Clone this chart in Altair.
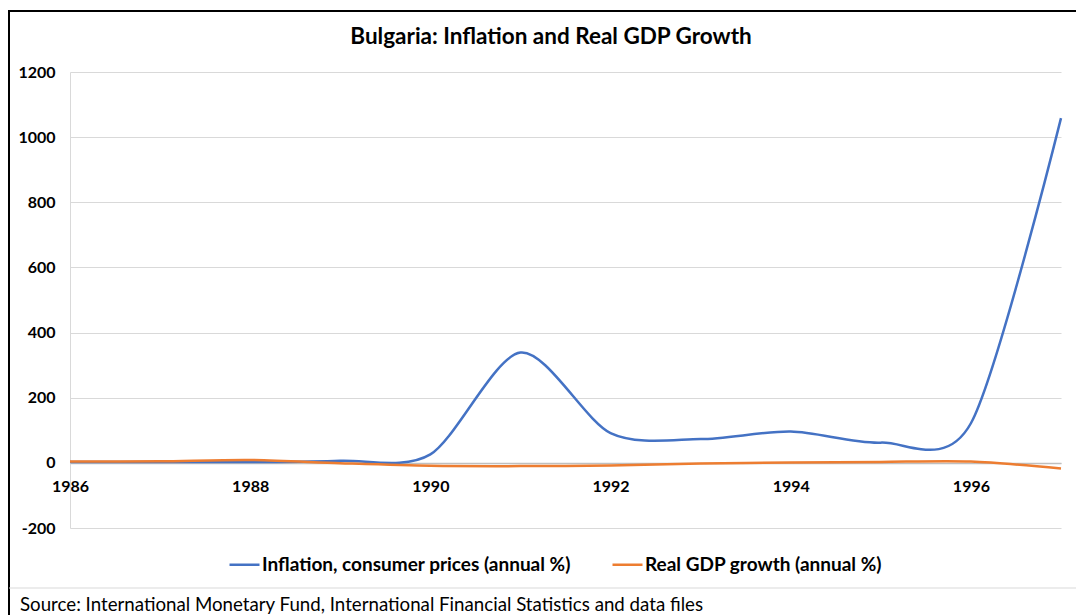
import altair as alt
import pandas as pd

years = list(range(1986, 1998))
inflation = [2.7, 2.7, 2.4, 6.4, 26.0, 338.5, 91.3, 72.9, 96.1, 62.1, 121.6, 1058.4]
gdp_growth = [4.0, 5.0, 9.0, -1.0, -9.0, -10.0, -8.0, -2.0, 1.0, 3.0, 4.0, -17.0]
series_names = ["Inflation, consumer prices (annual %)", "Real GDP growth (annual %)"]
series_colors = ["#4472C4", "#ED7D31"]
x_tick_values = [1986, 1988, 1990, 1992, 1994, 1996]
y_tick_values = [-200, 0, 200, 400, 600, 800, 1000, 1200]
title_text = "Bulgaria: Inflation and Real GDP Growth"
source_text = "Source: International Monetary Fund, International Financial Statistics and data files"

FONT = "Lato"

rows = []
for y, v in zip(years, inflation):
    rows.append({"year": y, "value": v, "series": series_names[0]})
for y, v in zip(years, gdp_growth):
    rows.append({"year": y, "value": v, "series": series_names[1]})
df = pd.DataFrame(rows)

W, H = 991, 456

lines = alt.Chart(df).mark_line(interpolate="cardinal", tension=0.15, strokeWidth=2.5).encode(
    x=alt.X("year:Q",
            scale=alt.Scale(domain=[1986, 1997], nice=False, zero=False),
            axis=alt.Axis(values=x_tick_values, format="d", title=None,
                          offset=-65.1, grid=False, ticks=False,
                          domainColor="#bfbfbf", domainWidth=1.5,
                          labelFont=FONT, labelFontSize=16, labelFontWeight="bold",
                          labelColor="#000000", labelPadding=16, labelFlush=False)),
    y=alt.Y("value:Q",
            scale=alt.Scale(domain=[-200, 1200], nice=False),
            axis=alt.Axis(values=y_tick_values, labelExpr="'' + datum.value",
                          title=None, ticks=False,
                          grid=True, gridColor="#d9d9d9", gridWidth=1,
                          domain=True, domainColor="#d9d9d9", domainWidth=1,
                          labelFont=FONT, labelFontSize=16, labelFontWeight="bold",
                          labelColor="#000000", labelPadding=15)),
    color=alt.Color("series:N",
                    scale=alt.Scale(domain=series_names, range=series_colors),
                    sort=series_names,
                    legend=alt.Legend(orient="none", legendX=158, legendY=476,
                                      direction="horizontal", title=None,
                                      symbolType="stroke", symbolSize=900,
                                      symbolStrokeWidth=2.5, columnPadding=36,
                                      labelFont=FONT, labelFontSize=19,
                                      labelFontWeight="bold", labelColor="#000000",
                                      labelLimit=600, labelOffset=1)),
)

title_df = pd.DataFrame({"text": [title_text]})
title = alt.Chart(title_df).mark_text(
    align="center", baseline="middle", font=FONT, fontSize=22.5, fontWeight="bold",
    color="#000000"
).encode(text="text:N", x=alt.value(481), y=alt.value(-35))

source_df = pd.DataFrame({"text": [source_text]})
source = alt.Chart(source_df).mark_text(
    align="left", baseline="middle", font=FONT, fontSize=18.7, color="#000000"
).encode(text="text:N", x=alt.value(-50), y=alt.value(533))

deco_df = pd.DataFrame({"k": [1]})
top_border = alt.Chart(deco_df).mark_rule(color="#000000", strokeWidth=2).encode(
    x=alt.value(-62), x2=alt.value(1020), y=alt.value(-61))
left_border = alt.Chart(deco_df).mark_rule(color="#000000", strokeWidth=2).encode(
    x=alt.value(-61), y=alt.value(-62), y2=alt.value(545))
bottom_line = alt.Chart(deco_df).mark_rule(color="#d9d9d9", strokeWidth=1).encode(
    x=alt.value(-61), x2=alt.value(1020), y=alt.value(516))

chart = alt.layer(top_border, left_border, bottom_line, lines, title, source).properties(
    width=W, height=H,
    autosize=alt.AutoSizeParams(type="none"),
    padding={"left": 62, "top": 64, "right": 15, "bottom": 87},
).configure_view(stroke=None)

chart.save("out.html", embed_options={"renderer": "svg", "actions": False})
